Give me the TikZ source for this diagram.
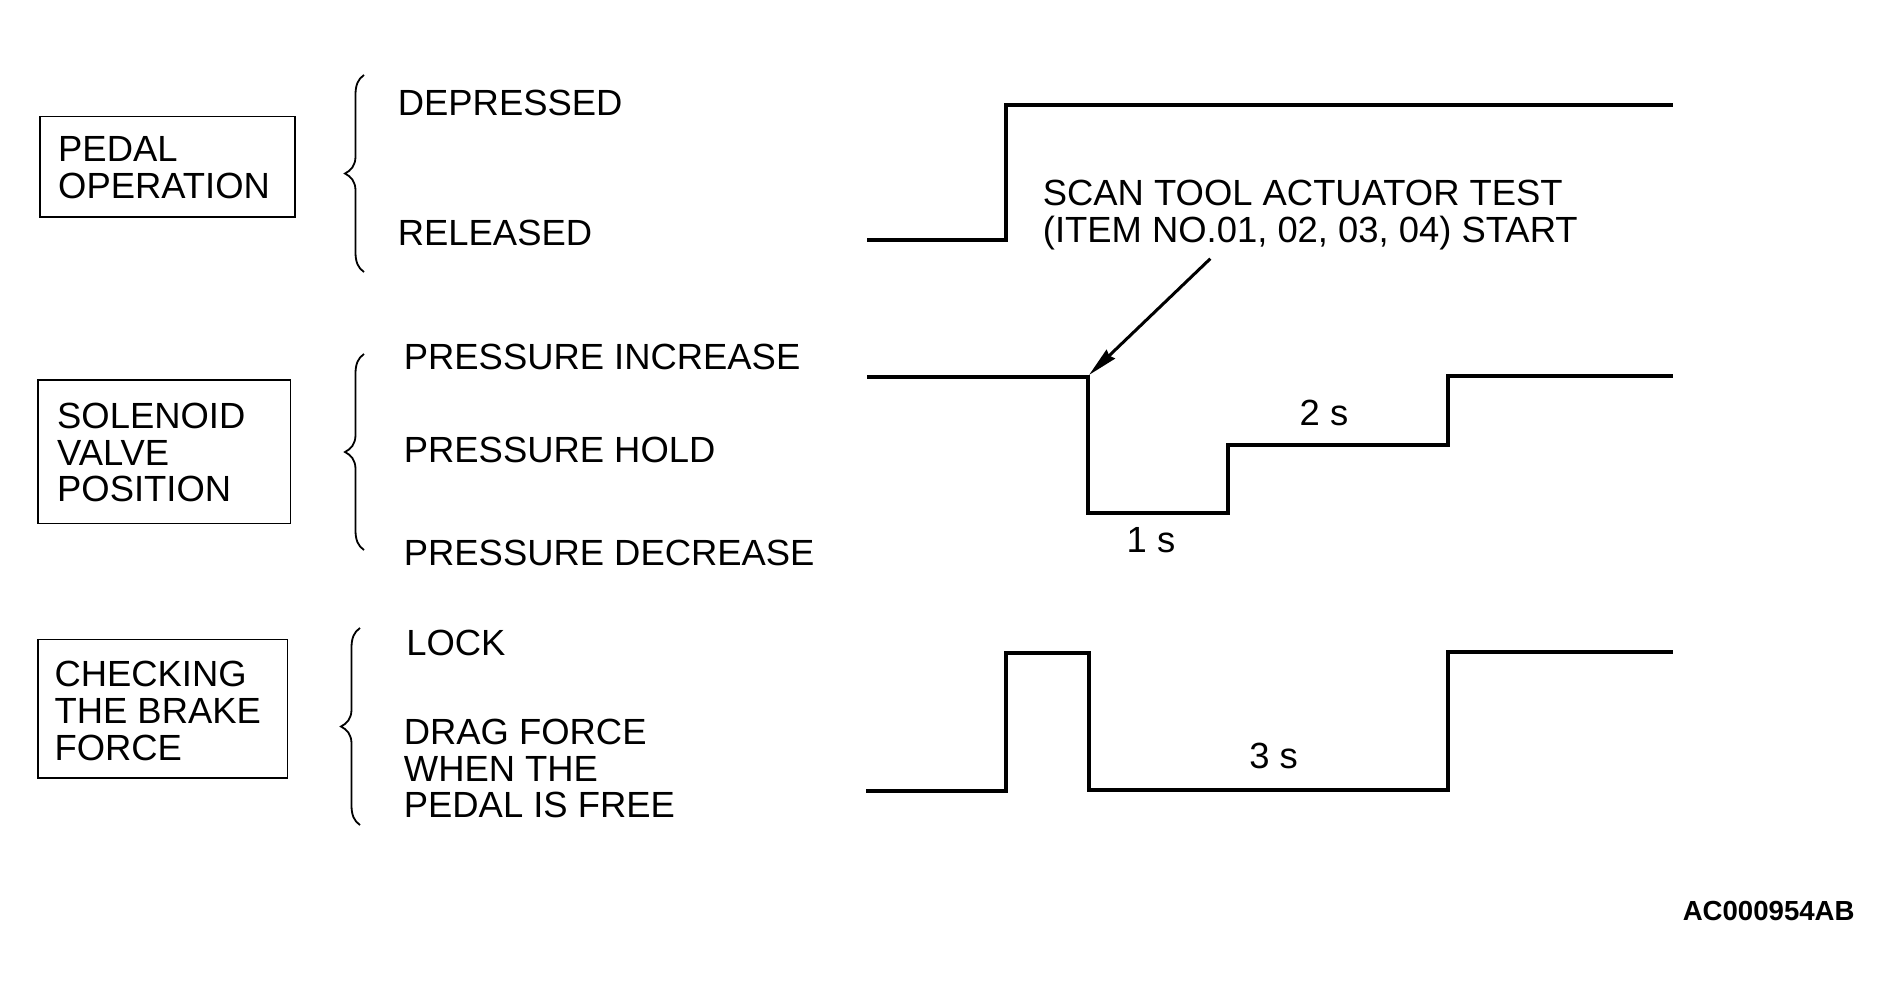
\documentclass[tikz,border=0pt]{standalone}
\usepackage{fontspec}
\setmainfont{Liberation Sans}
\usetikzlibrary{arrows.meta}
\newcommand\mlines[1]{\begin{tabular}[t]{@{}l@{}}#1\end{tabular}}
\newcommand\bracepath[3]{%
 \draw[bracestyle] (#1,#2) .. controls ({#1-6},{#2+4}) and ({#1-8.5},{#2+10}) .. ({#1-8.5},{#2+20})
   -- ({#1-8.5},{(#2+#3)/2-17}) .. controls ({#1-8.5},{(#2+#3)/2-8}) and ({#1-13},{(#2+#3)/2-3}) .. ({#1-19},{(#2+#3)/2})
   .. controls ({#1-13},{(#2+#3)/2+3}) and ({#1-8.5},{(#2+#3)/2+8}) .. ({#1-8.5},{(#2+#3)/2+17})
   -- ({#1-8.5},{#3-20}) .. controls ({#1-8.5},{#3-10}) and ({#1-6},{#3-4}) .. (#1,#3);}
\begin{document}
\begin{tikzpicture}[x=0.5pt,y=-0.5pt,
  wave/.style={line width=2.2pt, line join=miter},
  lbox/.style={draw, line width=0.8pt, rectangle, inner sep=0pt, anchor=north west},
  lbl/.style={inner sep=0pt, anchor=base west, font=\fontsize{18.2}{18.35}\selectfont},
  dur/.style={inner sep=0pt, anchor=base, font=\fontsize{18.2}{18.35}\selectfont},
  bracestyle/.style={line width=0.9pt},
  callout/.style={line width=1.5pt, -{Stealth[length=15pt,width=6pt,inset=1pt]}}
]
\path[fill=white] (0,0) rectangle (1892,996);
\useasboundingbox (0,0) rectangle (1892,996);

% left boxes
\node[lbox, minimum width=127.6pt, minimum height=50.3pt] (pedalbox) at (39.2,115.7) {};
\node[lbl] (pedaltxt) at (57.8,161.7) {\mlines{PEDAL\\OPERATION}};
\node[lbox, minimum width=126.1pt, minimum height=71.7pt] (solbox) at (37.4,379.3) {};
\node[lbl] (soltxt) at (56.8,428.3) {\mlines{SOLENOID\\VALVE\\POSITION}};
\node[lbox, minimum width=124.6pt, minimum height=69.2pt] (chkbox) at (37.4,638.7) {};
\node[lbl] (chktxt) at (54.2,686.7) {\mlines{CHECKING\\THE BRAKE\\FORCE}};

% braces
\bracepath{364}{75}{272}
\bracepath{364}{354}{550}
\bracepath{360}{628}{825}

% level labels
\node[lbl] (dep) at (397.5,115.7) {DEPRESSED};
\node[lbl] (rel) at (397.5,245) {RELEASED};
\node[lbl] (pinc) at (403.5,369) {PRESSURE INCREASE};
\node[lbl] (phold) at (403.5,462.3) {PRESSURE HOLD};
\node[lbl] (pdec) at (403.5,565) {PRESSURE DECREASE};
\node[lbl] (lock) at (406,655.7) {LOCK};
\node[lbl] (drag) at (403.5,744.3) {\mlines{DRAG FORCE\\WHEN THE\\PEDAL IS FREE}};

% waveforms
\draw[wave] (867,240) -- (1006,240) -- (1006,105) -- (1673,105);
\draw[wave] (867,377) -- (1088,377) -- (1088,513) -- (1228,513) -- (1228,445) -- (1448,445) -- (1448,376) -- (1673,376);
\draw[wave] (866,791) -- (1006,791) -- (1006,653) -- (1089,653) -- (1089,790) -- (1448,790) -- (1448,652) -- (1673,652);

% durations
\node[dur] (t2) at (1324,425.7) {2 s};
\node[dur] (t1) at (1151,552.3) {1 s};
\node[dur] (t3) at (1273.6,768.3) {3 s};

% callout
\node[lbl] (scan) at (1042.5,205) {\mlines{SCAN TOOL ACTUATOR TEST\\(ITEM NO.01, 02, 03, 04) START}};
\coordinate (arrowstart) at (1210.3,258.7);
\coordinate (arrowtip) at (1089,375);
\draw[callout] (arrowstart) -- (arrowtip);

% figure code
\node[inner sep=0pt, anchor=base east, font=\bfseries\fontsize{13.8}{14}\selectfont] (code) at (1855,920.7) {AC000954AB};
\end{tikzpicture}
\end{document}
